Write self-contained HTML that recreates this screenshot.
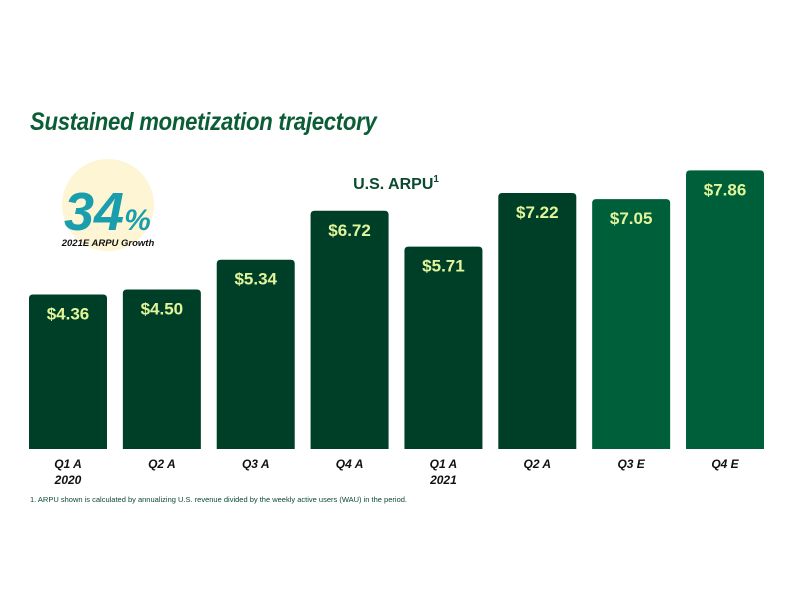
<!DOCTYPE html>
<html><head><meta charset="utf-8"><style>
body{margin:0;width:792px;height:612px;background:#fff;font-family:"Liberation Sans",sans-serif;overflow:hidden;position:relative}
</style></head><body>
<div style="position:absolute;left:30px;top:108px;font-size:25px;font-weight:bold;font-style:italic;color:#0b5d36;letter-spacing:-0.3px;transform:scaleX(0.885);transform-origin:0 0;white-space:nowrap">Sustained monetization trajectory</div>
<svg id="c" width="792" height="612" style="position:absolute;left:0;top:0">
<circle cx="108" cy="205" r="46" fill="#fdf5d3"/>
<text x="64" y="230" font-size="54" font-weight="bold" font-style="italic" fill="#1a9dad" font-family="Liberation Sans">34<tspan font-size="30">%</tspan></text>
<text x="108" y="246" text-anchor="middle" font-size="9.5" font-weight="bold" font-style="italic" fill="#111" font-family="Liberation Sans">2021E ARPU Growth</text>
<text x="396" y="189" text-anchor="middle" font-size="16" font-weight="bold" fill="#0b4a2e" font-family="Liberation Sans">U.S. ARPU<tspan font-size="10" dy="-7">1</tspan></text>
<text x="30" y="502" font-size="7.5" fill="#0b4a2e" font-family="Liberation Sans">1. ARPU shown is calculated by annualizing U.S. revenue divided by the weekly active users (WAU) in the period.</text>
</svg>
<script>
const categories=["Q1 A","Q2 A","Q3 A","Q4 A","Q1 A","Q2 A","Q3 E","Q4 E"];
const years=["2020","","","","2021","","",""];
const values=[4.36,4.50,5.34,6.72,5.71,7.22,7.05,7.86];
const estimate=[false,false,false,false,false,false,true,true];
const svg=document.getElementById('c');const NS='http://www.w3.org/2000/svg';
const base=449,scale=35.45,x0=29,step=93.86,bw=78;
const y=v=>base-v*scale;
function mk(t,a){const e=document.createElementNS(NS,t);for(const k in a)e.setAttribute(k,a[k]);svg.appendChild(e);return e;}
values.forEach((v,i)=>{
const x=x0+i*step;
const r=mk('path',{d:`M${x},${base}V${y(v)+4}Q${x},${y(v)} ${x+4},${y(v)}H${x+bw-4}Q${x+bw},${y(v)} ${x+bw},${y(v)+4}V${base}Z`,fill:estimate[i]?'#005f3b':'#003f27'});


const t=mk('text',{x:x+bw/2,y:y(v)+25,'text-anchor':'middle','font-size':'17','font-weight':'bold',fill:'#e3f59a','font-family':'Liberation Sans'});
t.textContent='$'+v.toFixed(2);


const c=mk('text',{x:x+bw/2,y:468,'text-anchor':'middle','font-size':'12','font-weight':'bold','font-style':'italic',fill:'#111','font-family':'Liberation Sans'});
c.textContent=categories[i];


if(years[i]){const yr=mk('text',{x:x+bw/2,y:484,'text-anchor':'middle','font-size':'12','font-weight':'bold','font-style':'italic',fill:'#111','font-family':'Liberation Sans'});
yr.textContent=years[i];

}
});
</script>
</body></html>
